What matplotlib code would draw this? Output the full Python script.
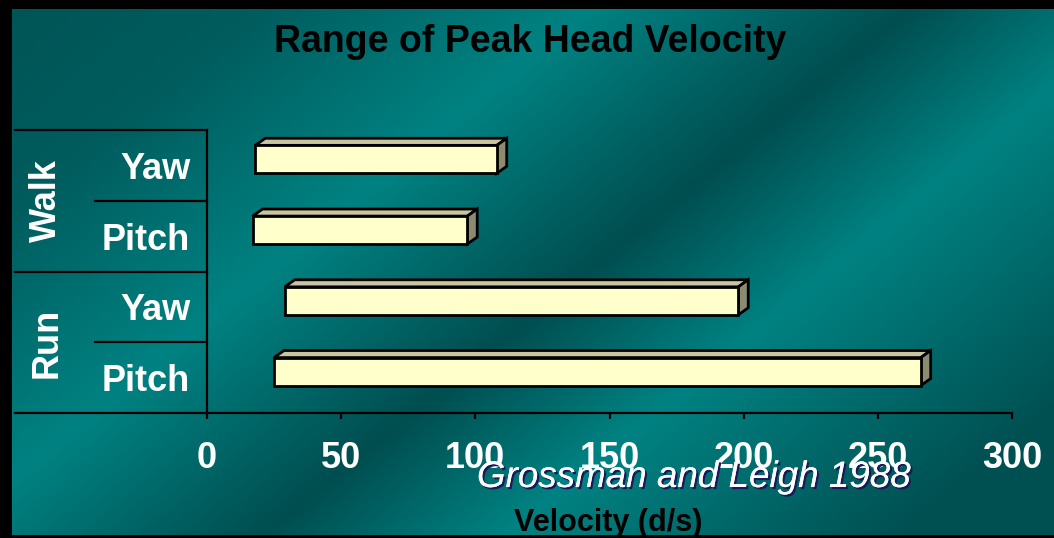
import numpy as np
import matplotlib
matplotlib.use("Agg")
import matplotlib.pyplot as plt
from matplotlib.patches import Polygon
import matplotlib.patheffects as pe

plt.rcParams['font.family'] = ['Liberation Sans', 'DejaVu Sans']

# data (bottom to top)
categories = ['Pitch', 'Yaw', 'Pitch', 'Yaw']
groups = ['Run', 'Walk']
starts = [25, 29, 17, 18]
ends = [266, 198, 97, 108]
xticks = [0, 50, 100, 150, 200, 250, 300]

W, H = 1054, 538
fig = plt.figure(figsize=(W / 100, H / 100), dpi=100)

# teal diagonal-band background
bg = fig.add_axes([0, 0, 1, 1])
yy, xx = np.mgrid[0:H, 0:W]
u = xx + 1.23 * yy
lvl = np.interp(u, [0, 270, 600, 920, 1160, 1550, 2000],
                [0.2, 0.35, 1.0, 0.1, 1.0, 0.15, 0.1])
dark = np.array([0, 72, 74]) / 255
bright = np.array([0, 130, 130]) / 255
img = dark + lvl[..., None] * (bright - dark)
img[:9, :] = 0
img[:, :12] = 0
img[-3:, :] = 0
bg.imshow(img, aspect='auto', interpolation='bilinear')
bg.axis('off')

# chart axes
ax = fig.add_axes([207 / W, 1 - 413 / H, (1012 - 207) / W, (413 - 130) / H])
ax.patch.set_alpha(0)
ax.set_xlim(0, 300)
ax.set_ylim(-0.5, 3.5)

front_h = 0.396
off = 0.085
dx, dy = 3.7, 0.1
ypos = np.arange(len(categories))
ax.barh(ypos + off, np.array(ends) - np.array(starts), left=starts, height=front_h,
        color='#FFFFCC', edgecolor='black', linewidth=2, zorder=3)
for y, s, e in zip(ypos, starts, ends):
    bot = y + off - front_h / 2
    top = y + off + front_h / 2
    ax.add_patch(Polygon([(s, top), (e, top), (e + dx, top + dy), (s + dx, top + dy)],
                         closed=True, facecolor='#C8C6A0', edgecolor='black', lw=2, zorder=2))
    ax.add_patch(Polygon([(e, bot), (e + dx, bot + dy), (e + dx, top + dy), (e, top)],
                         closed=True, facecolor='#8C8B70', edgecolor='black', lw=2, zorder=2))

for sp in ['top', 'right']:
    ax.spines[sp].set_visible(False)
for sp in ['left', 'bottom']:
    ax.spines[sp].set_linewidth(1.6)
    ax.spines[sp].set_color('black')

ax.set_xticks(xticks)
ax.set_xticklabels([str(t) for t in xticks])
ax.tick_params(axis='x', direction='out', length=4, width=1.6, color='black',
               labelcolor='white', labelsize=26, pad=16)
for lb in ax.get_xticklabels():
    lb.set_fontweight('bold')
ax.set_yticks(ypos)
ax.set_yticklabels(categories)
ax.tick_params(axis='y', length=0, labelcolor='white', labelsize=26, pad=12)
for lb in ax.get_yticklabels():
    lb.set_fontweight('bold')

# category group lines and labels
x_far = (15 - 207) / 805
x_mid = (95 - 207) / 805
for yf, x0 in [(1.0, x_far), (0.5, x_far), (0.0, x_far), (0.75, x_mid), (0.25, x_mid)]:
    ax.plot([x0, 0], [yf, yf], transform=ax.transAxes, color='black', lw=1.6, clip_on=False)
for g, yf in zip(groups, [0.247, 0.749]):
    ax.text(-0.199, yf, g, transform=ax.transAxes, rotation=90, ha='center', va='center',
            color='white', fontsize=26, fontweight='bold')

fig.text(530 / W, 1 - 52 / H, 'Range of Peak Head Velocity', ha='center', va='baseline',
         fontsize=27, fontweight='bold', color='black')
fig.text(608 / W, 1 - 531 / H, 'Velocity (d/s)', ha='center', va='baseline',
         fontsize=22, fontweight='bold', color='black')
fig.text(694 / W, 1 - 487 / H, 'Grossman and Leigh 1988', ha='center', va='baseline',
         fontsize=26.5, style='italic', color='white',
         path_effects=[pe.withSimplePatchShadow(offset=(1.5, -1.5), shadow_rgbFace='#1a1a5a', alpha=1),
                       pe.Normal()])

fig.savefig('out.png', dpi=100)
